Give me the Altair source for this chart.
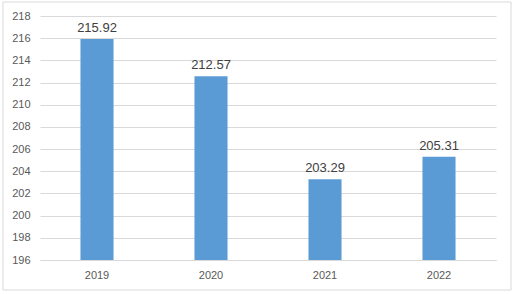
import altair as alt
import pandas as pd

years = ["2019", "2020", "2021", "2022"]
values = [215.92, 212.57, 203.29, 205.31]
y_ticks = [196, 198, 200, 202, 204, 206, 208, 210, 212, 214, 216, 218]

df = pd.DataFrame({"year": years, "value": values})
df["label"] = [f"{v:.2f}" for v in values]

W, H = 456, 244
FONT = "Liberation Sans"

base = alt.Chart(df)

x_enc = alt.X("year:N", sort=years, title=None,
              scale=alt.Scale(paddingInner=0.71, paddingOuter=0.355),
              axis=alt.Axis(labelAngle=0, ticks=False, domain=True, domainColor="#D9D9D9",
                            labelColor="#595959", labelFontSize=11, labelFont=FONT,
                            labelPadding=9, grid=False))
y_enc = alt.Y("value:Q", title=None,
              scale=alt.Scale(domain=[196, 218], nice=False, zero=False),
              axis=alt.Axis(values=y_ticks, ticks=False, domain=False, grid=True,
                            gridColor="#D9D9D9", labelColor="#595959", labelFontSize=11,
                            labelFont=FONT, labelPadding=10, labelOverlap=False,
                            labelFlush=False))

bars = base.mark_bar(color="#5B9BD5", clip=True).encode(
    x=x_enc, y=y_enc, y2=alt.datum(196))

labels = base.mark_text(dy=-11, fontSize=13, color="#404040", font=FONT).encode(
    x=x_enc, y=y_enc, text="label:N")

border = alt.Chart(pd.DataFrame({"a": [0]})).mark_rect(
    fill=None, stroke="#D9D9D9", strokeWidth=1).encode(
    x=alt.value(-37), x2=alt.value(W + 15), y=alt.value(-14), y2=alt.value(H + 30))

chart = alt.layer(border, bars, labels).properties(
    width=W, height=H,
    padding={"left": 40, "top": 16, "right": 19, "bottom": 34},
    autosize=alt.AutoSizeParams(type="none"),
    background="white",
).configure_view(stroke=None)

chart.save("out.html", embed_options={"renderer": "svg", "actions": False})
